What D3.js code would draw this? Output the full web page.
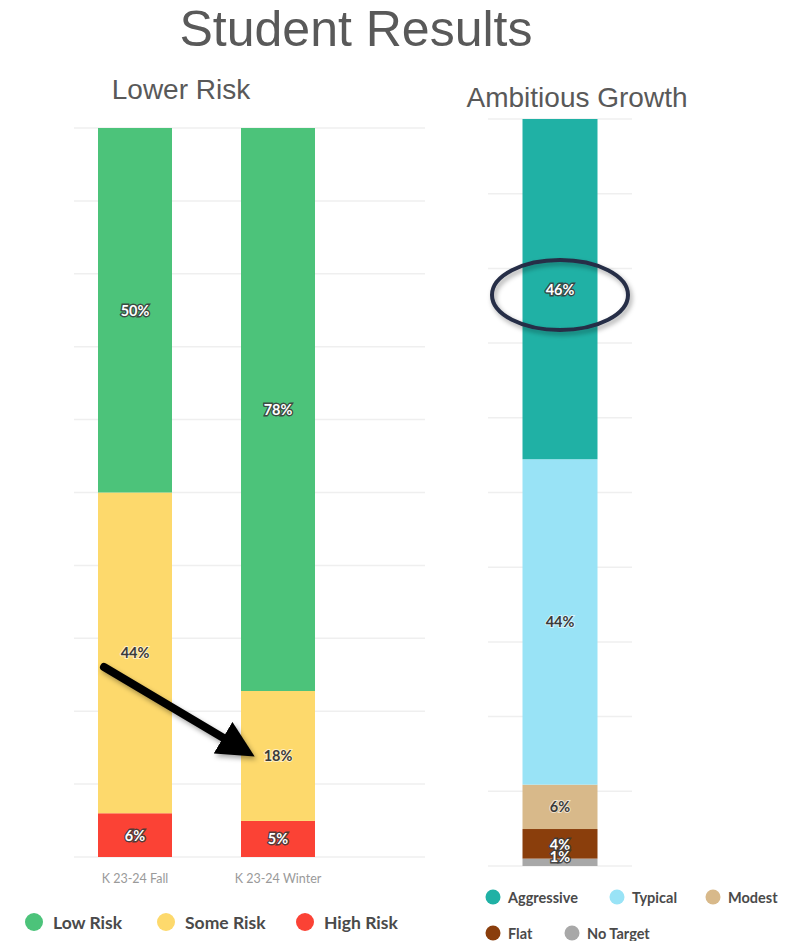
<!DOCTYPE html>
<html>
<head>
<meta charset="utf-8">
<script src="https://cdn.jsdelivr.net/npm/d3@7/dist/d3.min.js"></script>
<style>
  html, body { margin: 0; padding: 0; background: #fff; }
  svg { display: block; }
</style>
</head>
<body>
<svg id="chart" width="800" height="941"></svg>
<script>
// ---- Data ----
const riskTerms = ["K 23-24 Fall", "K 23-24 Winter"];
const riskLevels = ["Low Risk", "Some Risk", "High Risk"];
const lowRisk = [50, 78];
const someRisk = [44, 18];
const highRisk = [6, 5];
const riskColors = ["#4cc37a", "#fdd96c", "#fb4235"];

const growthLevels = ["Aggressive", "Typical", "Modest", "Flat", "No Target"];
const growthValues = [46, 44, 6, 4, 1];
const growthColors = ["#20b1a5", "#99e3f6", "#d8b98a", "#8a3e0c", "#a8a8a8"];

const gridTicks = [0, 0.1, 0.2, 0.3, 0.4, 0.5, 0.6, 0.7, 0.8, 0.9, 1];

const svg = d3.select("#chart");
const font = "Lato, 'Open Sans', sans-serif";
const titleFont = "'Liberation Sans', Arial, sans-serif";

// Dark fills get white labels with a dark halo; light fills get dark labels.
const darkFill = new Set(["#4cc37a", "#fb4235", "#20b1a5", "#8a3e0c", "#a8a8a8"]);

function drawLabel(g, x, y, text, fill) {
  const dark = darkFill.has(fill);
  g.append("text")
    .attr("x", x).attr("y", y)
    .attr("text-anchor", "middle").attr("dominant-baseline", "central")
    .attr("font-family", font).attr("font-weight", 700).attr("font-size", 14.5)
    .attr("fill", dark ? "#ffffff" : "#3a3a3a")
    .attr("stroke", dark ? "#3a3a3a" : "#ffffff")
    .attr("stroke-width", dark ? 2.8 : 2)
    .attr("stroke-opacity", dark ? 0.9 : 0.6)
    .attr("paint-order", "stroke")
    .text(text);
}

// ---- Titles ----
svg.append("text").attr("x", 356).attr("y", 46)
  .attr("text-anchor", "middle")
  .attr("font-family", titleFont)
  .attr("font-size", 50).attr("fill", "#595959")
  .text("Student Results");
svg.append("text").attr("x", 181).attr("y", 99)
  .attr("text-anchor", "middle")
  .attr("font-family", titleFont)
  .attr("font-size", 28).attr("fill", "#595959")
  .text("Lower Risk");
svg.append("text").attr("x", 577).attr("y", 107)
  .attr("text-anchor", "middle")
  .attr("font-family", titleFont)
  .attr("font-size", 28).attr("fill", "#595959")
  .text("Ambitious Growth");

// ---- Lower Risk chart ----
const riskRows = riskTerms.map((t, i) => ({
  term: t, "Low Risk": lowRisk[i], "Some Risk": someRisk[i], "High Risk": highRisk[i]
}));
// stacked bottom-up: High Risk at the base, Low Risk at the top
const riskOrder = ["High Risk", "Some Risk", "Low Risk"];
const riskStack = d3.stack().keys(riskOrder).offset(d3.stackOffsetExpand)(riskRows);
const riskColor = d3.scaleOrdinal(riskLevels, riskColors);

const xR = d3.scaleBand().domain(riskTerms).range([26.5, 386.5])
  .paddingInner(0.4825).paddingOuter(0.5);
const yRisk = d3.scaleLinear().domain([0, 1]).range([857, 128]);

const gL = svg.append("g");
gL.selectAll("line.grid").data(gridTicks).join("line")
  .attr("x1", 74).attr("x2", 425)
  .attr("y1", d => yRisk(d)).attr("y2", d => yRisk(d))
  .attr("stroke", "#efefef").attr("stroke-width", 1.5);

riskStack.forEach(layer => {
  const c = riskColor(layer.key);
  gL.selectAll(null).data(layer).join("rect")
    .attr("x", d => xR(d.data.term))
    .attr("width", xR.bandwidth())
    .attr("y", d => yRisk(d[1]))
    .attr("height", d => yRisk(d[0]) - yRisk(d[1]))
    .attr("fill", c);
});
riskStack.forEach(layer => {
  const c = riskColor(layer.key);
  layer.forEach(d => {
    drawLabel(gL, xR(d.data.term) + xR.bandwidth() / 2, (yRisk(d[0]) + yRisk(d[1])) / 2,
      d.data[layer.key] + "%", c);
  });
});

const axL = gL.append("g").attr("transform", "translate(0,857)")
  .call(d3.axisBottom(xR).tickSize(0).tickPadding(17));
axL.select(".domain").remove();
axL.selectAll("text").attr("font-family", font).attr("font-size", 12.5).attr("fill", "#9a9a9a");

// Legend (left)
const legL = svg.append("g");
const legLx = [34, 166, 305];
riskLevels.forEach((k, i) => {
  legL.append("circle").attr("cx", legLx[i]).attr("cy", 922).attr("r", 9).attr("fill", riskColor(k));
  legL.append("text").attr("x", legLx[i] + 19).attr("y", 922)
    .attr("dominant-baseline", "central")
    .attr("font-family", font).attr("font-weight", 700).attr("font-size", 17.5)
    .attr("fill", "#4a4a4a").text(k);
});

// ---- Ambitious Growth chart ----
const growthRow = { term: "Growth" };
growthLevels.forEach((k, i) => growthRow[k] = growthValues[i]);
const growthOrder = growthLevels.slice().reverse();
const growthStack = d3.stack().keys(growthOrder).offset(d3.stackOffsetExpand)([growthRow]);
const growthColor = d3.scaleOrdinal(growthLevels, growthColors);

const xG = d3.scaleBand().domain(["Growth"]).range([488, 632])
  .paddingInner(0).paddingOuter(0.46);
const yG = d3.scaleLinear().domain([0, 1]).range([866, 119]);

const gR = svg.append("g");
gR.selectAll("line.grid").data(gridTicks).join("line")
  .attr("x1", 488).attr("x2", 632)
  .attr("y1", d => yG(d)).attr("y2", d => yG(d))
  .attr("stroke", "#efefef").attr("stroke-width", 1.5);

growthStack.forEach(layer => {
  gR.selectAll(null).data(layer).join("rect")
    .attr("x", d => xG(d.data.term))
    .attr("width", xG.bandwidth())
    .attr("y", d => yG(d[1]))
    .attr("height", d => yG(d[0]) - yG(d[1]))
    .attr("fill", growthColor(layer.key));
});
// labels drawn top-down; the two thinnest segments share the space near the base
growthStack.slice().reverse().forEach(layer => {
  layer.forEach(d => {
    let cy = (yG(d[0]) + yG(d[1])) / 2;
    if (layer.key === "Flat") cy = 844;
    if (layer.key === "No Target") cy = 856;
    drawLabel(gR, xG(d.data.term) + xG.bandwidth() / 2, cy, d.data[layer.key] + "%", growthColor(layer.key));
  });
});

// Legend (right)
const legR = svg.append("g");
const legRpos = [[493, 897], [617, 897], [713, 897], [493, 933], [572, 933]];
growthLevels.forEach((k, i) => {
  const [cx, cy] = legRpos[i];
  legR.append("circle").attr("cx", cx).attr("cy", cy).attr("r", 7.5).attr("fill", growthColor(k));
  legR.append("text").attr("x", cx + 15).attr("y", cy)
    .attr("dominant-baseline", "central")
    .attr("font-family", font).attr("font-weight", 700).attr("font-size", 14.5)
    .attr("fill", "#4a4a4a").text(k);
});

// ---- Annotations ----
const defs = svg.append("defs");
const sh = defs.append("filter").attr("id", "shadow")
  .attr("x", "-20%").attr("y", "-20%").attr("width", "140%").attr("height", "160%");
sh.append("feDropShadow").attr("dx", 2).attr("dy", 3).attr("stdDeviation", 2.5)
  .attr("flood-color", "#000").attr("flood-opacity", 0.35);

defs.append("marker").attr("id", "head")
  .attr("viewBox", "0 0 10 10").attr("refX", 6).attr("refY", 5)
  .attr("markerWidth", 4.6).attr("markerHeight", 4.6)
  .attr("markerUnits", "strokeWidth").attr("orient", "auto")
  .append("path").attr("d", "M0,0 L10,5 L0,10 Z").attr("fill", "#000");

// arrow from the fall "Some Risk" label toward the winter one
svg.append("line")
  .attr("x1", 104).attr("y1", 667).attr("x2", 242).attr("y2", 749)
  .attr("stroke", "#000").attr("stroke-width", 8).attr("stroke-linecap", "round")
  .attr("marker-end", "url(#head)")
  .attr("filter", "url(#shadow)");

// ring around the "Aggressive" share
svg.append("ellipse")
  .attr("cx", 560).attr("cy", 295).attr("rx", 68).attr("ry", 35)
  .attr("fill", "none").attr("stroke", "#262e46").attr("stroke-width", 4)
  .attr("filter", "url(#shadow)");
</script>
</body>
</html>
